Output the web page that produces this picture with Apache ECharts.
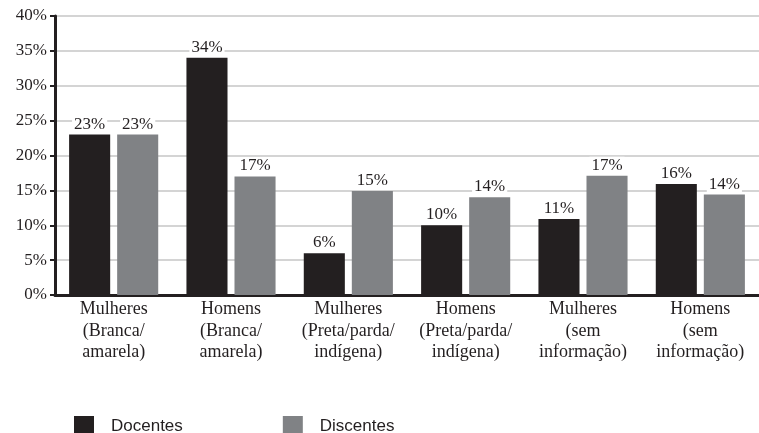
<!DOCTYPE html>
<html>
<head>
<meta charset="utf-8">
<script src="https://cdn.jsdelivr.net/npm/echarts@6/dist/echarts.min.js"></script>
<style>
	html, body { margin: 0; padding: 0; background: #fff; }
	#chart { width: 759px; height: 433px; }
</style>
</head>
<body>
<div id="chart"></div>
<script type="text/javascript">
	var categorias = [
		'Mulheres\n(Branca/\namarela)',
		'Homens\n(Branca/\namarela)',
		'Mulheres\n(Preta/parda/\nindígena)',
		'Homens\n(Preta/parda/\nindígena)',
		'Mulheres\n(sem\ninformação)',
		'Homens\n(sem\ninformação)'
	];
	var docentes = [23, 34, 6, 10, 10.9, 15.9];
	var discentes = [23, 17, 14.9, 14, 17.1, 14.4];
	var yTicks = ['0%', '5%', '10%', '15%', '20%', '25%', '30%', '35%', '40%'];

	var serif = "'Liberation Serif', 'DejaVu Serif', serif";
	var myChart = echarts.init(document.getElementById('chart'));

	// rótulo acima da barra, com fundo branco (corta a grade)
	function rotulo() {
		return {
			show: true,
			position: 'top',
			distance: 2,
			color: '#231f20',
			fontFamily: serif,
			fontSize: 17,
			backgroundColor: '#fff',
			padding: [0, 2, 0, 2],
			formatter: function (p) { return Math.round(p.value) + '%'; }
		};
	}

	var option = {
		backgroundColor: '#fff',
		animation: false,
		grid: { left: 55, right: 0, top: 16, bottom: 138 },
		legend: {
			left: 69,
			top: 411,
			itemWidth: 20,
			itemHeight: 20,
			itemGap: 100,
			icon: 'rect',
			textStyle: {
				fontFamily: "'Liberation Sans Narrow', 'Liberation Sans', sans-serif",
				fontSize: 17,
				color: '#231f20',
				padding: [0, 0, 0, 12]
			},
			data: ['Docentes', 'Discentes']
		},
		xAxis: {
			type: 'category',
			data: categorias,
			axisLine: { lineStyle: { color: '#231f20', width: 3 } },
			axisTick: { show: false },
			axisLabel: {
				color: '#231f20',
				fontFamily: serif,
				fontSize: 18,
				lineHeight: 21.5,
				margin: 4,
				interval: 0
			}
		},
		yAxis: {
			type: 'value',
			min: 0,
			max: 40,
			interval: 5,
			axisLine: { show: true, lineStyle: { color: '#231f20', width: 3 } },
			axisTick: { show: true, length: 5, lineStyle: { color: '#231f20', width: 2 } },
			splitLine: { lineStyle: { color: '#d4d4d4', width: 2 } },
			axisLabel: {
				color: '#231f20',
				fontFamily: serif,
				fontSize: 17,
				margin: 8,
				formatter: function (v) { return yTicks[v / 5]; }
			}
		},
		series: [
			{
				name: 'Docentes',
				type: 'bar',
				data: docentes,
				barWidth: '35%',
				barGap: '17%',
				itemStyle: { color: '#231f20' },
				label: rotulo()
			},
			{
				name: 'Discentes',
				type: 'bar',
				data: discentes,
				barWidth: '35%',
				itemStyle: { color: '#808285' },
				label: rotulo()
			}
		]
	};
	myChart.setOption(option);
</script>
</body>
</html>
